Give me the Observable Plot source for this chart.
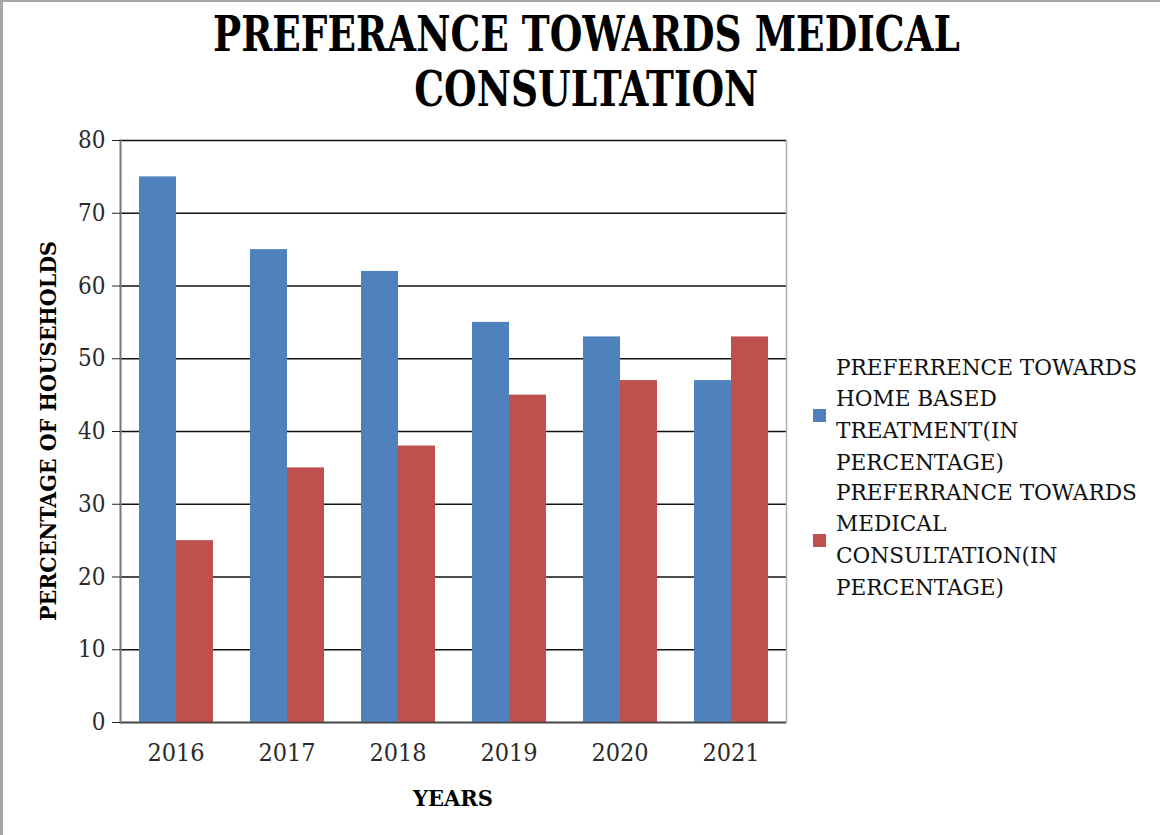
<!DOCTYPE html>
<html><head><meta charset="utf-8">
<script src="https://cdn.jsdelivr.net/npm/d3@7"></script>
<script src="https://cdn.jsdelivr.net/npm/@observablehq/plot@0.6"></script>
<style>
body{margin:0;background:#fff;}
#wrap{position:relative;width:1160px;height:835px;overflow:hidden;background:#fff;font-family:"DejaVu Serif Condensed","DejaVu Serif",serif;color:#000;}
#border{position:absolute;left:0;top:0;width:1160px;height:835px;box-sizing:border-box;border-left:3px solid #a6a6a6;border-top:2px solid #a6a6a6;pointer-events:none;}
#chart{position:absolute;left:0;top:0;}
.tline{position:absolute;left:0;width:1172px;text-align:center;font-weight:bold;font-size:48px;line-height:1;white-space:nowrap;}
.tline span{display:inline-block;transform-origin:center;}
#ylab{position:absolute;left:47px;top:431px;font-weight:bold;font-size:23px;line-height:1;white-space:nowrap;}
#xlab{position:absolute;left:453px;top:797px;font-weight:bold;font-size:23px;line-height:1;white-space:nowrap;}
#legend{position:absolute;left:813px;top:0;}
.lg{position:absolute;left:0;display:flex;align-items:center;}
.sw{width:13px;height:13px;margin-right:10px;flex:none;}
.lt{font-size:23px;line-height:31.7px;white-space:nowrap;transform-origin:left center;color:#111;}
#measure{font-size:23px;white-space:nowrap;position:absolute;visibility:hidden;left:0;top:0;}
</style></head>
<body>
<div id="wrap">
  <div id="chart"></div>
  <div id="title"></div>
  <div id="ylab"></div>
  <div id="xlab"></div>
  <div id="legend"></div>
  <span id="measure"></span>
  <div id="border"></div>
</div>
<script>
const titleLines = ["PREFERANCE TOWARDS MEDICAL", "CONSULTATION"];
const years = ["2016", "2017", "2018", "2019", "2020", "2021"];
const seriesNames = ["PREFERRENCE TOWARDS HOME BASED TREATMENT(IN PERCENTAGE)", "PREFERRANCE TOWARDS MEDICAL CONSULTATION(IN PERCENTAGE)"];
const legendLines = [["PREFERRENCE TOWARDS", "HOME BASED", "TREATMENT(IN", "PERCENTAGE)"], ["PREFERRANCE TOWARDS", "MEDICAL", "CONSULTATION(IN", "PERCENTAGE)"]];
const homeBased = [75, 65, 62, 55, 53, 47];
const medical = [25, 35, 38, 45, 47, 53];
const colors = ["#4F81BD", "#C0504D"];
const yTicks = [0, 10, 20, 30, 40, 50, 60, 70, 80];
const yLabel = "PERCENTAGE OF HOUSEHOLDS";
const xLabel = "YEARS";

const data = [];
years.forEach((yr, i) => {
  data.push({year: yr, series: seriesNames[0], value: homeBased[i]});
  data.push({year: yr, series: seriesNames[1], value: medical[i]});
});

const chart = Plot.plot({
  width: 800, height: 835,
  marginLeft: 120, marginRight: 14, marginTop: 140, marginBottom: 113,
  style: {fontFamily: '"DejaVu Serif Condensed","DejaVu Serif",serif', color: "#222", background: "transparent", overflow: "visible"},
  fx: {domain: years, paddingInner: 0, paddingOuter: 0, label: null},
  x: {domain: seriesNames, paddingInner: 0, paddingOuter: 0.5, axis: null},
  y: {domain: [0, 80], label: null},
  color: {domain: seriesNames, range: colors},
  marks: [
    Plot.gridY(yTicks, {stroke: "#111", strokeOpacity: 1, strokeWidth: 1.3}),
    Plot.barY(data, {fx: "year", x: "series", y: "value", fill: "series"}),
    Plot.ruleY([0], {stroke: "#444", strokeWidth: 1.5}),
    Plot.frame({anchor: "left", facetAnchor: "left", stroke: "#777", strokeWidth: 2}),
    Plot.frame({anchor: "right", facetAnchor: "right", stroke: "#b0b0b0", strokeWidth: 1.5}),
    Plot.axisY(yTicks, {anchor: "left", tickSize: 8, tickPadding: 7, stroke: "#222", fill: "#2a2a2a", fontSize: 24, label: null, tickFormat: d => String(d)}),
    Plot.axisFx({anchor: "bottom", tickSize: 0, tickPadding: 21, fill: "#2a2a2a", fontSize: 25, label: null})
  ]
});
document.getElementById("chart").appendChild(chart);

// title
const tEl = document.getElementById("title");
const centers = [33, 88];
const spans = titleLines.map((t, i) => {
  const d = document.createElement("div");
  d.className = "tline";
  d.style.top = (centers[i] - 0.48 * 48) + "px";
  const s = document.createElement("span");
  s.textContent = t;
  d.appendChild(s);
  tEl.appendChild(d);
  return s;
});
const tScale = 747 / spans[0].getBoundingClientRect().width;
spans.forEach(s => s.style.transform = `scaleX(${tScale})`);

// axis titles
const yl = document.getElementById("ylab");
yl.textContent = yLabel;
const ylw = yl.getBoundingClientRect().width;
yl.style.transform = `translate(-50%,-50%) rotate(-90deg) scaleX(${380 / ylw})`;
const xl = document.getElementById("xlab");
xl.textContent = xLabel;
const xlw = xl.getBoundingClientRect().width;
xl.style.transform = `translate(-50%,-50%) scaleX(${80 / xlw})`;

// legend
const lg = document.getElementById("legend");
const blockCenters = [415, 540];
const texts = [];
legendLines.forEach((lines, i) => {
  const row = document.createElement("div");
  row.className = "lg";
  const sw = document.createElement("div");
  sw.className = "sw";
  sw.style.background = colors[i];
  const tx = document.createElement("div");
  tx.className = "lt";
  lines.forEach(l => { const ld = document.createElement("div"); ld.textContent = l; tx.appendChild(ld); });
  row.appendChild(sw); row.appendChild(tx);
  lg.appendChild(row);
  row.style.top = (blockCenters[i] - 2 * 31.7) + "px";
  texts.push(tx);
});
const m = document.getElementById("measure");
m.textContent = legendLines[0][0];
const lScale = 301 / m.getBoundingClientRect().width;
texts.forEach(t => t.style.transform = `scaleX(${lScale})`);
</script>
</body></html>
